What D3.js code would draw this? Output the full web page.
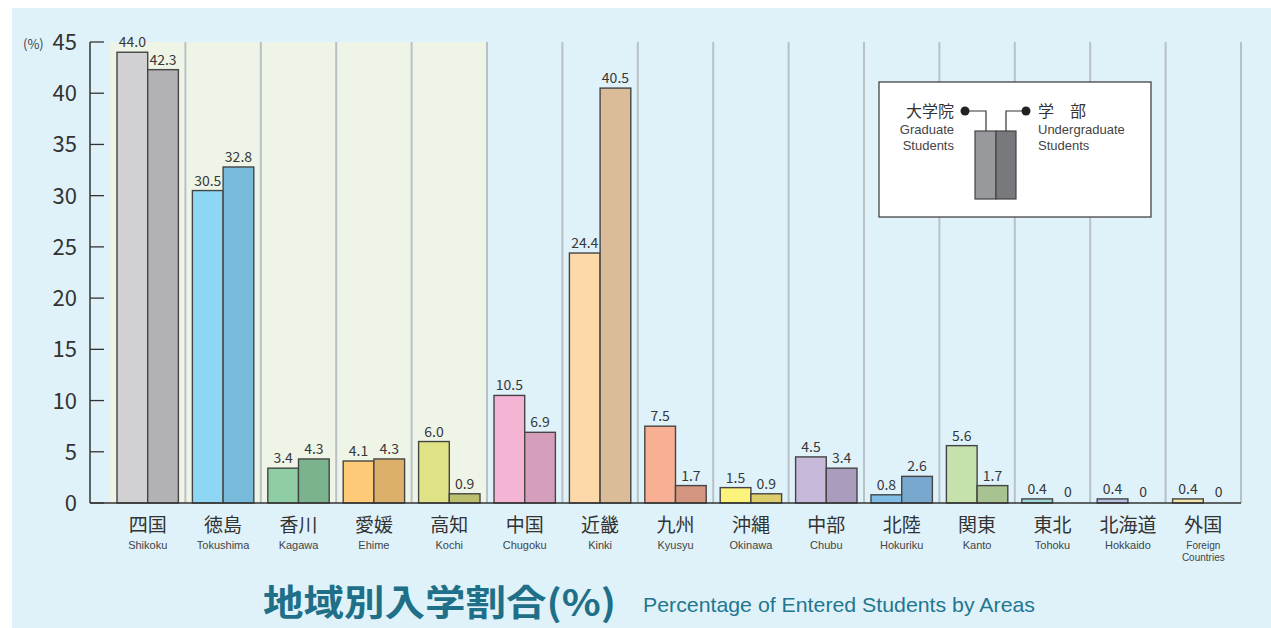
<!DOCTYPE html>
<html>
<head>
<meta charset="utf-8">
<script src="https://cdn.jsdelivr.net/npm/d3@7"></script>
<style>
  body { margin: 0; background: #fff; }
  svg { display: block; }
  text { font-family: "Noto Sans CJK JP", "Noto Sans", sans-serif; }
</style>
</head>
<body>
<svg id="chart" width="1271" height="628"></svg>
<script>
// data
const categoriesJa = ['四国', '徳島', '香川', '愛媛', '高知', '中国', '近畿', '九州', '沖縄', '中部', '北陸', '関東', '東北', '北海道', '外国'];
const categoriesEn = ['Shikoku', 'Tokushima', 'Kagawa', 'Ehime', 'Kochi', 'Chugoku', 'Kinki', 'Kyusyu', 'Okinawa', 'Chubu', 'Hokuriku', 'Kanto', 'Tohoku', 'Hokkaido', 'Foreign\nCountries'];
const graduate = [44.0, 30.5, 3.4, 4.1, 6.0, 10.5, 24.4, 7.5, 1.5, 4.5, 0.8, 5.6, 0.4, 0.4, 0.4];
const undergraduate = [42.3, 32.8, 4.3, 4.3, 0.9, 6.9, 40.5, 1.7, 0.9, 3.4, 2.6, 1.7, 0, 0, 0];
const gradColors = ['#d1d1d3', '#8ed7f4', '#8fcea4', '#fdca78', '#dfe386', '#f4b5d5', '#fdd9aa', '#f8b095', '#fdf27b', '#c7b9da', '#80bee8', '#c6e1ab', '#9fd9d8', '#b9c1e8', '#f3e3a4'];
const ugColors = ['#b2b2b6', '#78bad9', '#7bb38f', '#dcb06b', '#bcc06e', '#d59fbb', '#dbbc98', '#d49681', '#dccf6b', '#a99cbd', '#78a8cd', '#a8c291', '#88bcbb', '#a0a8cc', '#d4c48e'];
const yTicks = [0, 5, 10, 15, 20, 25, 30, 35, 40, 45];
const shikokuGroups = ['四国', '徳島', '香川', '愛媛', '高知'];

const latin = '"Liberation Sans", "DejaVu Sans", sans-serif';
const svg = d3.select('#chart');

// panel background
svg.append('rect')
    .attr('x', 12).attr('y', 8)
    .attr('width', 1259).attr('height', 620)
    .attr('fill', '#dff2fa');

const x0 = d3.scaleBand()
    .domain(categoriesJa)
    .range([110, 1241])
    .paddingInner(0).paddingOuter(0);

const bw = x0.bandwidth();
const x1 = d3.scaleBand()
    .domain(['grad', 'ug'])
    .range([7, bw - 7]);

const y = d3.scaleLinear()
    .domain([0, 45])
    .range([503, 42]);

// shaded Shikoku area
svg.append('rect')
    .attr('x', x0(shikokuGroups[0]))
    .attr('y', y(45))
    .attr('width', x0(shikokuGroups[shikokuGroups.length - 1]) + bw - x0(shikokuGroups[0]))
    .attr('height', y(0) - y(45))
    .attr('fill', '#eef5e7');

// vertical grid lines
svg.append('g')
    .selectAll('line')
    .data(categoriesJa)
    .enter()
    .append('line')
    .attr('x1', d => x0(d) + bw)
    .attr('x2', d => x0(d) + bw)
    .attr('y1', y(45))
    .attr('y2', y(0))
    .style('stroke', '#b8c2c6')
    .style('stroke-width', 2);

// bars
const groups = svg.append('g')
    .selectAll('g')
    .data(categoriesJa.map((c, i) => ({
        cat: c,
        vals: [
            { key: 'grad', v: graduate[i], color: gradColors[i] },
            { key: 'ug', v: undergraduate[i], color: ugColors[i] }
        ]
    })))
    .enter()
    .append('g')
    .attr('transform', d => `translate(${x0(d.cat)},0)`);

groups.selectAll('rect')
    .data(d => d.vals)
    .enter()
    .append('rect')
    .attr('x', d => x1(d.key))
    .attr('y', d => y(d.v))
    .attr('width', x1.bandwidth())
    .attr('height', d => y(0) - y(d.v))
    .attr('fill', d => d.color)
    .style('stroke', '#454545')
    .style('stroke-width', 1.4);

groups.selectAll('text.val')
    .data(d => d.vals)
    .enter()
    .append('text')
    .attr('class', 'val')
    .attr('x', d => x1(d.key) + x1.bandwidth() / 2)
    .attr('y', d => d.v === 0 ? y(0) - 6 : y(d.v) - 5)
    .attr('text-anchor', 'middle')
    .style('font-size', '14px')
    .style('fill', '#383838')
    .text(d => d.v === 0 ? '0' : d.v.toFixed(1));

// y axis
const axisG = svg.append('g');
axisG.append('line')
    .attr('x1', 90).attr('x2', 90)
    .attr('y1', y(45)).attr('y2', y(0))
    .style('stroke', '#333').style('stroke-width', 1.5);
axisG.selectAll('line.tick')
    .data(yTicks)
    .enter()
    .append('line')
    .attr('class', 'tick')
    .attr('x1', 90).attr('x2', 104)
    .attr('y1', d => y(d)).attr('y2', d => y(d))
    .style('stroke', '#333').style('stroke-width', 1.3);
axisG.selectAll('text.tick')
    .data(yTicks)
    .enter()
    .append('text')
    .attr('class', 'tick')
    .attr('x', 77)
    .attr('y', d => y(d) + 8)
    .attr('text-anchor', 'end')
    .style('font-size', '22px')
    .style('fill', '#333')
    .text(d => d);
axisG.append('text')
    .attr('x', 23).attr('y', 49)
    .style('font-size', '13px')
    .style('fill', '#444')
    .text('(%)');

// baseline
svg.append('line')
    .attr('x1', 90).attr('x2', 1241)
    .attr('y1', y(0)).attr('y2', y(0))
    .style('stroke', '#333').style('stroke-width', 1.5);

// category labels
const labels = svg.append('g')
    .selectAll('g')
    .data(categoriesJa.map((c, i) => ({ ja: c, en: categoriesEn[i] })))
    .enter()
    .append('g')
    .attr('transform', d => `translate(${x0(d.ja) + bw / 2},0)`);

labels.append('text')
    .attr('y', 532)
    .attr('text-anchor', 'middle')
    .style('font-size', '19px')
    .style('fill', '#333')
    .text(d => d.ja);

labels.each(function(d) {
    const lines = d.en.split('\n');
    d3.select(this).selectAll('text.en')
        .data(lines)
        .enter()
        .append('text')
        .attr('class', 'en')
        .attr('y', (l, i) => 549 + i * 12)
        .attr('text-anchor', 'middle')
        .style('font-family', latin)
        .style('font-size', lines.length > 1 ? '10px' : '11px')
        .style('fill', '#444')
        .text(l => l);
});

// legend
const lg = svg.append('g');
lg.append('rect')
    .attr('x', 879).attr('y', 82)
    .attr('width', 272).attr('height', 135)
    .attr('fill', '#fff')
    .style('stroke', '#444').style('stroke-width', 1.3);
lg.append('rect')
    .attr('x', 975).attr('y', 131).attr('width', 21).attr('height', 68)
    .attr('fill', '#98999d').style('stroke', '#444').style('stroke-width', 1.2);
lg.append('rect')
    .attr('x', 996).attr('y', 131).attr('width', 20).attr('height', 68)
    .attr('fill', '#78797d').style('stroke', '#444').style('stroke-width', 1.2);
lg.append('path')
    .attr('d', 'M965,111 H986 V131')
    .attr('fill', 'none').style('stroke', '#333').style('stroke-width', 1.2);
lg.append('path')
    .attr('d', 'M1026,111 H1006 V131')
    .attr('fill', 'none').style('stroke', '#333').style('stroke-width', 1.2);
lg.append('circle').attr('cx', 965).attr('cy', 111).attr('r', 4.5).attr('fill', '#222');
lg.append('circle').attr('cx', 1026).attr('cy', 111).attr('r', 4.5).attr('fill', '#222');
lg.append('text').attr('x', 954).attr('y', 117).attr('text-anchor', 'end')
    .style('font-size', '16px').style('fill', '#333').text('大学院');
lg.append('text').attr('x', 954).attr('y', 134).attr('text-anchor', 'end')
    .style('font-family', latin)
    .style('font-size', '13px').style('fill', '#444').text('Graduate');
lg.append('text').attr('x', 954).attr('y', 150).attr('text-anchor', 'end')
    .style('font-family', latin)
    .style('font-size', '13px').style('fill', '#444').text('Students');
lg.append('text').attr('x', 1038).attr('y', 117)
    .style('font-size', '16px').style('fill', '#333').text('学　部');
lg.append('text').attr('x', 1038).attr('y', 134)
    .style('font-family', latin)
    .style('font-size', '13px').style('fill', '#444').text('Undergraduate');
lg.append('text').attr('x', 1038).attr('y', 150)
    .style('font-family', latin)
    .style('font-size', '13px').style('fill', '#444').text('Students');

// title
svg.append('text')
    .attr('x', 263).attr('y', 616)
    .style('font-size', '36px')
    .style('font-weight', 'bold')
    .style('fill', '#1e6f87')
    .attr('textLength', 353)
    .attr('lengthAdjust', 'spacingAndGlyphs')
    .text('地域別入学割合(%)');
svg.append('text')
    .attr('x', 643).attr('y', 612)
    .style('font-family', '"Liberation Sans Narrow", "Liberation Sans", sans-serif')
    .style('font-size', '21px')
    .style('fill', '#23768f')
    .attr('textLength', 392)
    .attr('lengthAdjust', 'spacingAndGlyphs')
    .text('Percentage of Entered Students by Areas');
</script>
</body>
</html>
